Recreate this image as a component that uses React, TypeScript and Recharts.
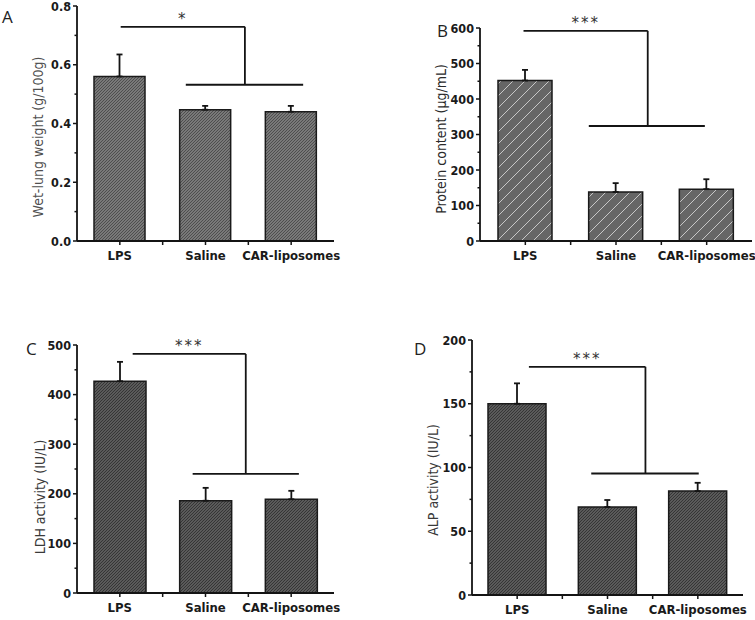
import { BarChart, Bar, XAxis, YAxis, ErrorBar, ReferenceLine } from 'recharts';

const categories = ['LPS', 'Saline', 'CAR-liposomes'];

const wetLungWeight = [0.56, 0.447, 0.44];
const wetLungError = [0.075, 0.013, 0.02];
const proteinContent = [452, 138, 146];
const proteinError = [30, 25, 28];
const ldhActivity = [427, 186, 189];
const ldhError = [39, 26, 17];
const alpActivity = [150, 69, 81.5];
const alpError = [16, 5.5, 6.5];

const wetLungTicks = [0, 0.2, 0.4, 0.6, 0.8];
const wetLungMinor = [0.1, 0.3, 0.5, 0.7];
const proteinTicks = [0, 100, 200, 300, 400, 500, 600];
const proteinMinor = [50, 150, 250, 350, 450, 550];
const ldhTicks = [0, 100, 200, 300, 400, 500];
const ldhMinor = [50, 150, 250, 350, 450];
const alpTicks = [0, 50, 100, 150, 200];
const alpMinor = [25, 75, 125, 175];

// x axis runs 0..3 (one unit per group); ticks at group centres and between groups
const xTickPositions = [0.5, 1, 1.5, 2, 2.5];

// significance brackets, x in group units: top bar from -> drop, lower bar lowFrom -> lowTo
const wetLungBracket = { top: 0.729, low: 0.532, from: 0.51, drop: 1.96, lowFrom: 1.27, lowTo: 2.64, stars: '*' };
const proteinBracket = { top: 592, low: 324, from: 0.48, drop: 1.85, lowFrom: 1.2, lowTo: 2.48, stars: '***' };
const ldhBracket = { top: 482, low: 240, from: 0.65, drop: 1.97, lowFrom: 1.35, lowTo: 2.59, stars: '***' };
const alpBracket = { top: 179, low: 95.3, from: 0.63, drop: 1.92, lowFrom: 1.32, lowTo: 2.51, stars: '***' };

const FONT = '"DejaVu Sans Condensed", "DejaVu Sans", sans-serif';
const INK = '#141414';

function XTick(props: any) {
  const { x, y, payload } = props;
  const idx = payload.value - 0.5;
  const label = Number.isInteger(idx) ? categories[idx] : '';
  return (
    <g>
      <line x1={x} y1={y} x2={x} y2={y + 4} stroke={INK} strokeWidth={1.5} />
      {label && (
        <text x={x} y={y + 19} textAnchor="middle" fontFamily={FONT} fontWeight="bold" fontSize={13} fill="#1a1a1a">
          {label}
        </text>
      )}
    </g>
  );
}

function YTick(props: any) {
  const { x, y, payload, major, digits } = props;
  const isMajor = major.includes(payload.value);
  return (
    <g>
      <line x1={x} y1={y} x2={x - (isMajor ? 4 : 2.5)} y2={y} stroke={INK} strokeWidth={1.5} />
      {isMajor && (
        <text x={x - 6} y={y} dy="0.36em" textAnchor="end" fontFamily={FONT} fontWeight="bold" fontSize={12.5} fill="#1a1a1a">
          {payload.value.toFixed(digits)}
        </text>
      )}
    </g>
  );
}

function Stars(props: any) {
  const { viewBox, text } = props;
  if (!viewBox) return null;
  return (
    <text x={viewBox.x + viewBox.width / 2} y={viewBox.y - 3} textAnchor="middle" fontFamily="DejaVu Sans" fontSize={15} letterSpacing={2} fill="#333">
      {text}
    </text>
  );
}

function Panel({ box, values, errors, ticks, minor, domain, digits, title, bracket, fill, letter }: any) {
  const data = categories.map((name, i) => ({ name, pos: i + 0.5, value: values[i], err: [0, errors[i]] }));
  const allTicks = [...ticks, ...minor].sort((a: number, b: number) => a - b);
  const lineStyle = { stroke: INK, strokeWidth: 1.8 };
  return (
    <div style={{ position: 'absolute', left: box.left, top: box.top, width: box.width, height: box.height }}>
      <BarChart width={box.width} height={box.height} data={data} margin={box.margin}>
        <XAxis
          dataKey="pos"
          type="number"
          domain={[0, 3]}
          ticks={xTickPositions}
          interval={0}
          height={box.xHeight}
          axisLine={lineStyle}
          tickLine={false}
          tickSize={0}
          tickMargin={0}
          tick={<XTick />}
        />
        <YAxis
          domain={domain}
          ticks={allTicks}
          interval={0}
          width={60}
          axisLine={lineStyle}
          tickLine={false}
          tickSize={0}
          tickMargin={0}
          tick={<YTick major={ticks} digits={digits} />}
        />
        <Bar dataKey="value" barSize={box.barSize} fill={`url(#${fill})`} stroke="#1a1a1a" strokeWidth={1.5} isAnimationActive={false}>
          <ErrorBar dataKey="err" width={3} stroke={INK} strokeWidth={1.8} direction="y" />
        </Bar>
        <ReferenceLine
          segment={[{ x: bracket.from, y: bracket.top }, { x: bracket.drop, y: bracket.top }]}
          {...lineStyle}
          label={<Stars text={bracket.stars} />}
        />
        <ReferenceLine segment={[{ x: bracket.drop, y: bracket.top }, { x: bracket.drop, y: bracket.low }]} {...lineStyle} />
        <ReferenceLine segment={[{ x: bracket.lowFrom, y: bracket.low }, { x: bracket.lowTo, y: bracket.low }]} {...lineStyle} />
      </BarChart>
      <svg width={box.width} height={box.height} style={{ position: 'absolute', left: 0, top: 0, pointerEvents: 'none' }}>
        <text
          x={title.x}
          y={title.y}
          dy="0.36em"
          transform={`rotate(-90, ${title.x}, ${title.y})`}
          textAnchor="middle"
          fontFamily={FONT}
          fontSize={14}
          fill={title.color}
        >
          {title.text}
        </text>
        <text x={letter.x} y={letter.y} fontFamily='"Open Sans", sans-serif' fontSize={17} fill="#222">
          {letter.text}
        </text>
      </svg>
    </div>
  );
}

export default function App() {
  return (
    <div style={{ position: 'absolute', left: 0, top: 0, width: 755, height: 620, background: '#fff', overflow: 'hidden' }}>
      <svg width={0} height={0} style={{ position: 'absolute' }}>
        <defs>
          <pattern id="hatchLight" patternUnits="userSpaceOnUse" width={3} height={3}>
            <rect width={3} height={3} fill="#8c8c8c" />
            <path d="M-1,1 L1,-1 M0,3 L3,0 M2,4 L4,2" stroke="#4a4a4a" strokeWidth={1.1} />
          </pattern>
          <pattern id="hatchDark" patternUnits="userSpaceOnUse" width={3} height={3}>
            <rect width={3} height={3} fill="#6c6c6c" />
            <path d="M-1,1 L1,-1 M0,3 L3,0 M2,4 L4,2" stroke="#333" strokeWidth={1.2} />
          </pattern>
          <pattern id="hatchSparse" patternUnits="userSpaceOnUse" width={12} height={12}>
            <rect width={12} height={12} fill="#666" />
            <path d="M-3,3 L3,-3 M0,12 L12,0 M9,15 L15,9" stroke="#e0e0e0" strokeWidth={0.8} />
          </pattern>
        </defs>
      </svg>
      <Panel
        box={{ left: 0, top: 0, width: 377, height: 300, margin: { top: 6, right: 43, bottom: 29, left: 17 }, barSize: 51, xHeight: 30 }}
        values={wetLungWeight}
        errors={wetLungError}
        ticks={wetLungTicks}
        minor={wetLungMinor}
        domain={[0, 0.8]}
        digits={1}
        title={{ text: 'Wet-lung weight (g/100g)', x: 38, y: 137, color: '#505050' }}
        bracket={wetLungBracket}
        fill="hatchLight"
        letter={{ text: 'A', x: 2, y: 23 }}
      />
      <Panel
        box={{ left: 378, top: 0, width: 377, height: 300, margin: { top: 28, right: 3, bottom: 29, left: 42 }, barSize: 54, xHeight: 30 }}
        values={proteinContent}
        errors={proteinError}
        ticks={proteinTicks}
        minor={proteinMinor}
        domain={[0, 600]}
        digits={0}
        title={{ text: 'Protein content (μg/mL)', x: 63, y: 139, color: '#2a2a2a' }}
        bracket={proteinBracket}
        fill="hatchSparse"
        letter={{ text: 'B', x: 59, y: 37 }}
      />
      <Panel
        box={{ left: 0, top: 310, width: 377, height: 310, margin: { top: 35, right: 43, bottom: 2, left: 17 }, barSize: 52, xHeight: 25 }}
        values={ldhActivity}
        errors={ldhError}
        ticks={ldhTicks}
        minor={ldhMinor}
        domain={[0, 500]}
        digits={0}
        title={{ text: 'LDH activity (IU/L)', x: 40, y: 187, color: '#3a3a3a' }}
        bracket={ldhBracket}
        fill="hatchDark"
        letter={{ text: 'C', x: 26, y: 45 }}
      />
      <Panel
        box={{ left: 378, top: 310, width: 377, height: 310, margin: { top: 30, right: 12, bottom: 0, left: 34 }, barSize: 58, xHeight: 25 }}
        values={alpActivity}
        errors={alpError}
        ticks={alpTicks}
        minor={alpMinor}
        domain={[0, 200]}
        digits={0}
        title={{ text: 'ALP activity (IU/L)', x: 55, y: 170, color: '#3a3a3a' }}
        bracket={alpBracket}
        fill="hatchDark"
        letter={{ text: 'D', x: 36, y: 45 }}
      />
    </div>
  );
}
